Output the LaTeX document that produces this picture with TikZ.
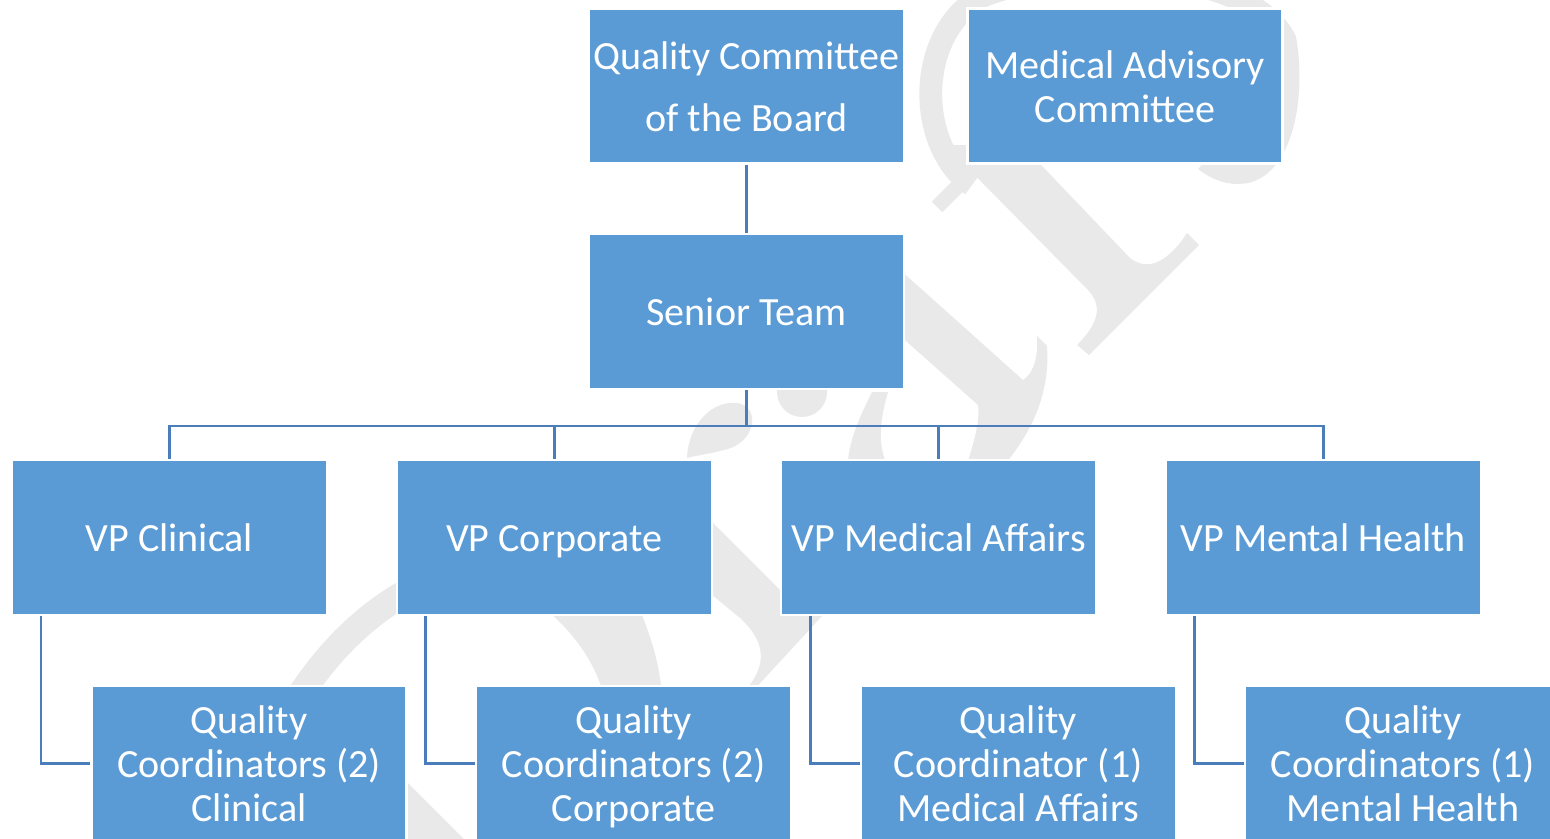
\documentclass[tikz,border=0pt]{standalone}
\usepackage{fontspec}
\setmainfont{Carlito}

\definecolor{boxblue}{RGB}{91,155,213}
\definecolor{lineblue}{RGB}{74,126,187}
\definecolor{markgray}{RGB}{233,233,233}

% same height and depth on every line, so the text sits in the middle
\newcommand\boxstrut{\rule[-6pt]{0pt}{28.4pt}}
\newcommand\boxfont[1]{\fontsize{22.8}{#1}\selectfont\lineskiplimit=-100pt\relax}

\tikzset{
    orgbox/.style={draw=white, line width=1.2pt, fill=boxblue, text=white,
        minimum width=6.3cm, minimum height=3.1cm, align=center, inner sep=2pt,
        font=\boxfont{25},
        execute at begin node=\boxstrut, execute at end node=\boxstrut},
    link/.style={draw=lineblue, line width=1.6pt},
    wmark/.style={fill=markgray},
    wstroke/.style={draw=markgray, line cap=butt}
}

\begin{document}
\begin{tikzpicture}[x=0.02cm, y=-0.02cm]
    \useasboundingbox (0,0) rectangle (1550,838);
    % Draw the grey mark behind the chart
    \draw[wstroke, line width=13pt] (972,185) .. controls (915,145) and (915,30) .. (985,-5)
        .. controls (1080,-40) and (1250,-30) .. (1285,40)
        .. controls (1295,100) and (1280,165) .. (1245,172)
        .. controls (1230,174) and (1218,170) .. (1205,160);
    \draw[wstroke, line width=8.5pt] (937,207) -- (975,169);
    \fill[wmark] (945,145) -- (1022,145) -- (1130,258) .. controls (1148,272) and (1168,262) .. (1187,233)
        -- (1199,245) -- (1089,355) -- (1077,345) .. controls (1100,322) and (1102,305) .. (1088,290) -- cycle;
    \fill[wmark] (880,252) -- (1023,380) .. controls (1035,372) and (1038,355) .. (1037,336)
        -- (1047,346) .. controls (1050,390) and (1035,430) .. (1000,470)
        -- (965,470) .. controls (975,440) and (980,420) .. (978,405) -- (880,318) -- cycle;
    \fill[wmark] (872,392) .. controls (858,420) and (850,440) .. (848,460)
        -- (885,460) .. controls (878,440) and (880,420) .. (888,392) -- cycle;
    \fill[wmark] (802,392) circle[radius=25];
    \fill[wmark] (687,458) .. controls (688,425) and (712,400) .. (737,403)
        .. controls (760,406) and (757,440) .. (728,449) .. controls (710,454) and (698,455) .. (687,458) -- cycle;
    \draw[wstroke, line width=15pt] (300,695) .. controls (330,650) and (365,615) .. (410,590);
    \fill[wmark] (547,610) .. controls (575,635) and (593,660) .. (603,692)
        -- (662,692) .. controls (658,660) and (652,640) .. (640,610) -- cycle;
    \fill[wmark] (700,510) -- (800,610) -- (822,616) -- (752,692) -- (744,692)
        .. controls (768,665) and (766,642) .. (740,618) -- (700,585) -- cycle;
    \fill[wmark] (390,765) -- (475,850) -- (390,850) -- cycle;

    % Draw the boxes at the top
    \node[orgbox, font=\boxfont{35}] (board) at (746.5,86) {\boxstrut Quality Committee\\of the Board};
    \node[orgbox] (advisory) at (1125,86) {\boxstrut Medical Advisory\\Committee};
    \node[orgbox] (senior) at (746.5,311.5) {Senior Team};
    \draw[link] (board) -- (senior);
    \coordinate (bus) at (746.5,426);
    \draw[link] (senior) -- (bus);

    % Draw the VPs and their coordinators
    \foreach \i/\vp/\qc in {0/VP Clinical/{Quality\\Coordinators (2)\\Clinical},
                           1/VP Corporate/{Quality\\Coordinators (2)\\Corporate},
                           2/VP Medical Affairs/{Quality\\Coordinator (1)\\Medical Affairs},
                           3/VP Mental Health/{Quality\\Coordinators (1)\\Mental Health}} {
        \node[orgbox] (vp\i) at (169.5 + \i*384.6, 537.5) {\vp};
        \node[orgbox] (qc\i) at (249 + \i*384.6, 763.5) {\boxstrut\qc};
        \draw[link] (bus) -| (vp\i);
        \draw[link] (vp\i.south west) ++(30,0) |- (qc\i);
    }
\end{tikzpicture}
\end{document}
